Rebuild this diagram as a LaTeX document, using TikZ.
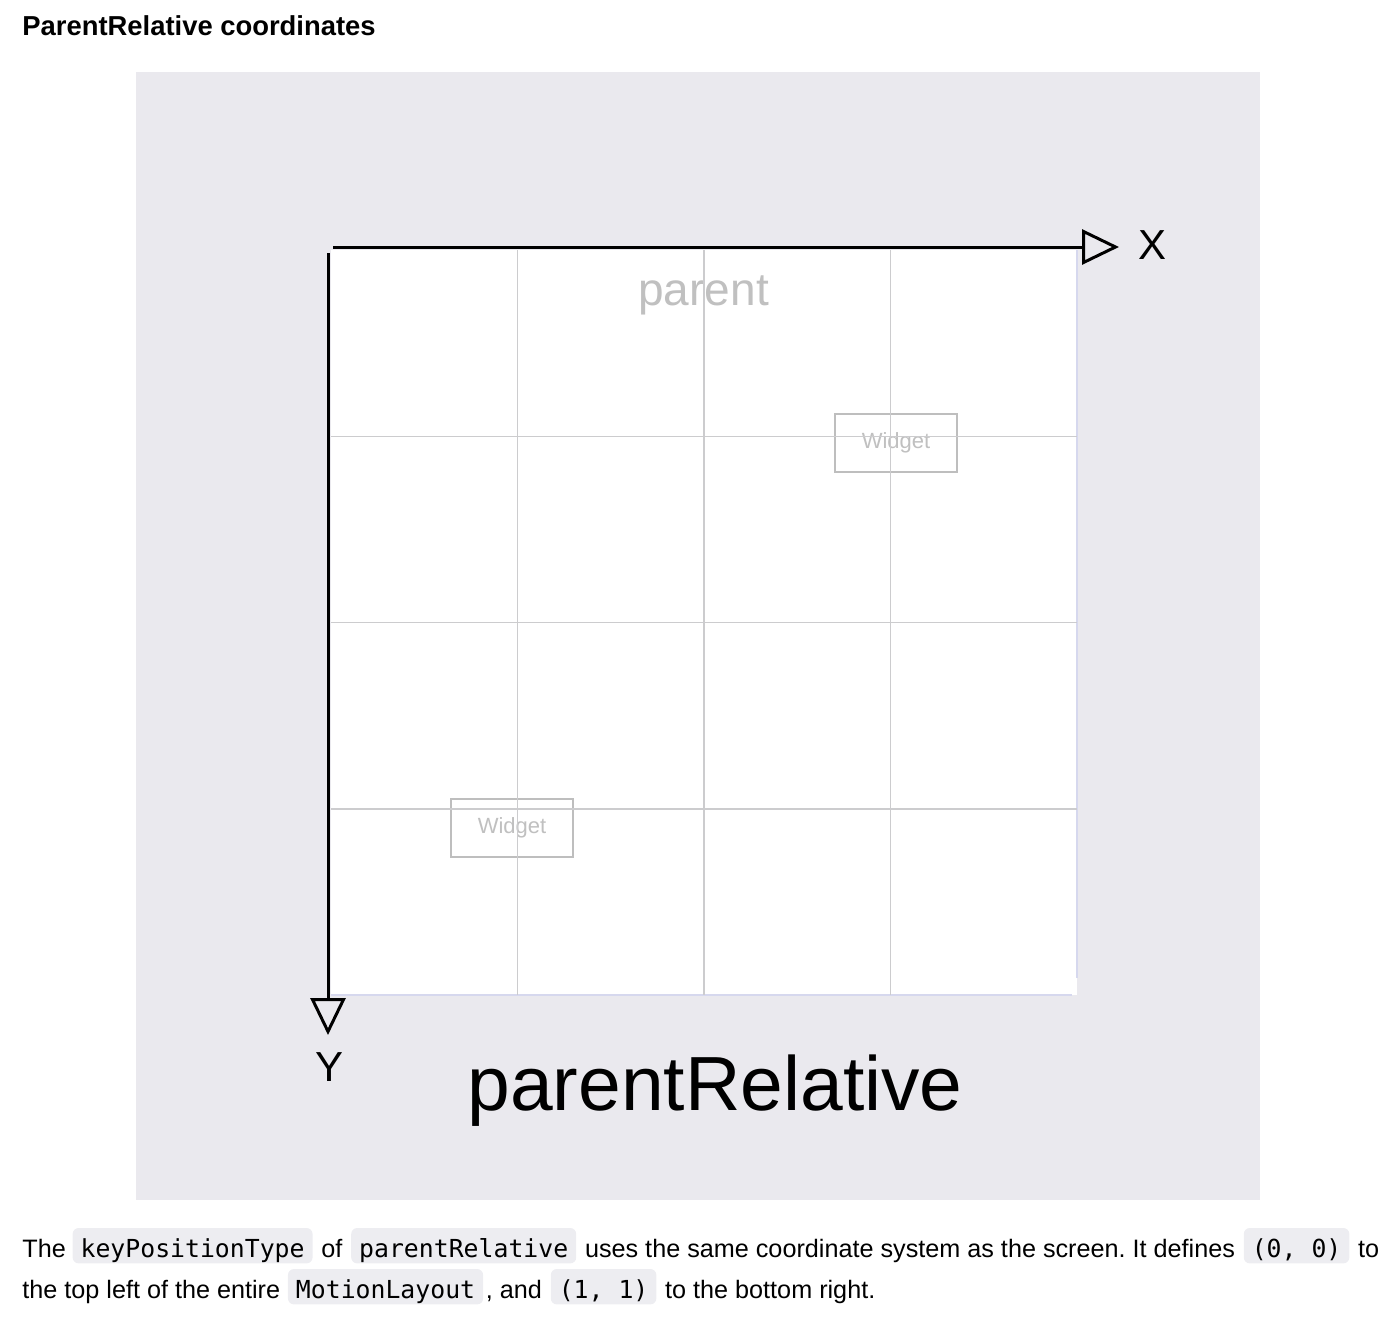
\documentclass[tikz,border=0pt]{standalone}
\usepackage{fontspec}
\setmainfont{Liberation Sans}
\setmonofont{DejaVu Sans Mono}
\usetikzlibrary{arrows.meta,positioning}
\definecolor{panelgray}{RGB}{234,233,238}
\definecolor{gridgray}{RGB}{204,204,206}
\definecolor{widgetgray}{RGB}{190,190,190}
\definecolor{labelgray}{RGB}{192,192,192}
\definecolor{codebg}{RGB}{237,237,241}
\definecolor{edgeblue}{RGB}{214,216,238}
\frenchspacing

\begin{document}
\begin{tikzpicture}[x=0.5pt,y=-0.5pt]
		\tikzstyle{txt}=[inner sep=0pt, font=\fontsize{12.6}{15}\selectfont]
		\tikzstyle{code}=[fill=codebg, rounded corners=3pt, inner xsep=4pt, inner ysep=0pt, text height=14.5pt, text depth=3.2pt, font=\ttfamily\fontsize{12.4}{15}\selectfont]
		\tikzstyle{widget}=[draw=widgetgray, line width=1pt, fill=white, fill opacity=0.6, text opacity=1, text=labelgray, minimum width=61pt, minimum height=29pt, inner sep=0pt, font=\fontsize{11}{13}\selectfont]
		\tikzstyle{axis}=[line width=1.5pt, -{Triangle[length=18.5pt, width=17.5pt, fill=panelgray]}]
		\useasboundingbox (0,0) rectangle (1396,1322);
		
		% Title
		\node[inner sep=0pt, anchor=base west, font=\bfseries\fontsize{13.7}{16}\selectfont] (title) at (22,36) {ParentRelative coordinates};
		
		% Panel and parent
		\fill[panelgray] (136,72) rectangle (1260,1200);
		\fill[white] (331,250) rectangle (1077,995);
		\draw[edgeblue, line width=1pt] (1077,250) -- (1077,978);
		\draw[edgeblue, line width=1pt] (331,995) -- (1072,995);
		\node[inner sep=0pt, anchor=base west, text=labelgray, font=\fontsize{23}{26}\selectfont] (parent) at (638,305) {parent};
		
		% Widgets
		\node[widget] (widget_1) at (896,443) {Widget};
		\node[widget] (widget_2) at (512,828) {Widget};
		
		% Grid
		\foreach \x in {1,...,3}
		\draw[gridgray, line width=0.6pt] (331+\x*186.5,250) -- (331+\x*186.5,995);
		\foreach \y in {1,...,3}
		\draw[gridgray, line width=0.6pt] (331,250+\y*186.3) -- (1077,250+\y*186.3);
		
		% Axes
		\coordinate (x_start) at (333,247);
		\coordinate (x_end) at (1119,247);
		\coordinate (y_start) at (328,253);
		\coordinate (y_end) at (328,1035);
		\draw[axis] (x_start) -- (x_end);
		\draw[axis] (y_start) -- (y_end);
		\node[inner sep=0pt, font=\fontsize{21}{24}\selectfont] (x_label) at (1152,245) {X};
		\node[inner sep=0pt, font=\fontsize{21}{24}\selectfont] (y_label) at (330,1067) {Y};
		
		% Name
		\node[inner sep=0pt, anchor=base west, font=\fontsize{38.4}{42}\selectfont] (name) at (467,1110) {parentRelative};
		
		% Text, line 1
		\node[txt, anchor=base west] (l1_1) at (22,1257) {The};
		\node[code, base right=3pt of l1_1] (c1_1) {keyPositionType};
		\node[txt, base right=4pt of c1_1] (l1_2) {of};
		\node[code, base right=4pt of l1_2] (c1_2) {parentRelative};
		\node[txt, base right=4pt of c1_2] (l1_3) {uses the same coordinate system as the screen. It defines};
		\node[code, base right=4pt of l1_3] (c1_3) {(0, 0)};
		\node[txt, base right=4pt of c1_3] (l1_4) {to};
		
		% Text, line 2
		\node[txt, anchor=base west] (l2_1) at (22,1298) {the top left of the entire};
		\node[code, base right=3.5pt of l2_1] (c2_1) {MotionLayout};
		\node[txt, base right=1pt of c2_1] (l2_2) {, and};
		\node[code, base right=4pt of l2_2] (c2_2) {(1, 1)};
		\node[txt, base right=4pt of c2_2] (l2_3) {to the bottom right.};
		
\end{tikzpicture}
\end{document}
